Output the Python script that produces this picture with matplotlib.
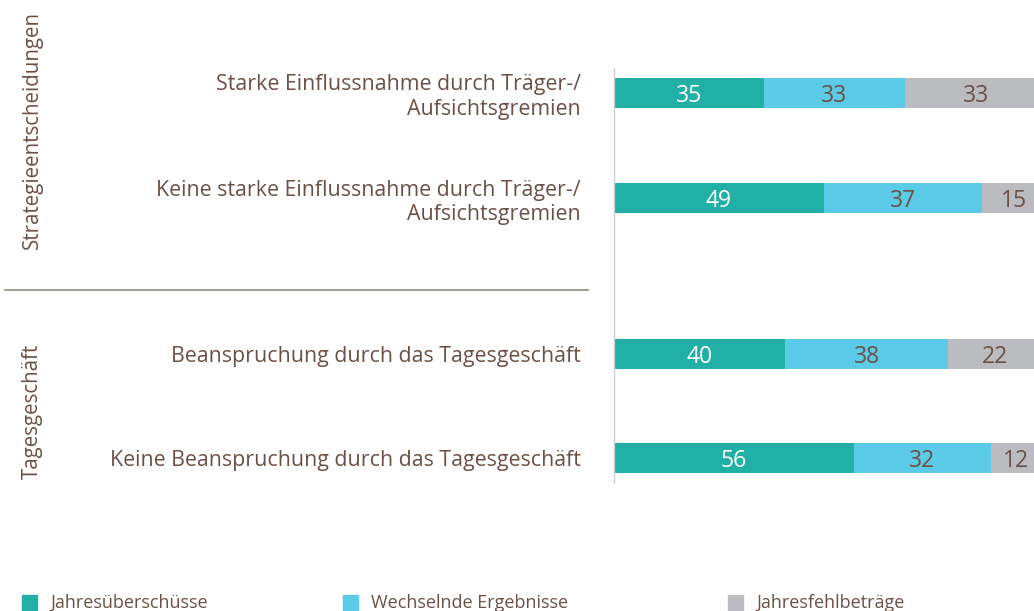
import matplotlib.pyplot as plt
from matplotlib.patches import Rectangle
from matplotlib.lines import Line2D

plt.rcParams['font.family'] = ['Open Sans', 'DejaVu Sans']

# Data
categories = ["Starke Einflussnahme durch Träger-/\nAufsichtsgremien",
              "Keine starke Einflussnahme durch Träger-/\nAufsichtsgremien",
              "Beanspruchung durch das Tagesgeschäft",
              "Keine Beanspruchung durch das Tagesgeschäft"]
ueberschuss = [35, 49, 40, 56]
wechselnd = [33, 37, 38, 32]
fehlbetrag = [33, 15, 22, 12]
series_names = ["Jahresüberschüsse", "Wechselnde Ergebnisse", "Jahresfehlbeträge"]
groups = ["Strategieentscheidungen", "Tagesgeschäft"]

colors = ["#20b0a5", "#5ccbe8", "#bbbcc0"]
text_color = "#6b5046"
W, H = 1034, 611

fig = plt.figure(figsize=(W / 100, H / 100), dpi=100)
ax = fig.add_axes([614 / W, 1 - 483 / H, 420 / W, 415 / H])

ypos = [0, 1, 2.486, 3.476]
height = 0.286
series = [ueberschuss, wechselnd, fehlbetrag]
left = [0] * len(categories)
for i, vals in enumerate(series):
    bars = ax.barh(ypos, vals, left=left, height=height, color=colors[i], edgecolor="none")
    for b, v in zip(bars, vals):
        ax.text(b.get_x() + b.get_width() / 2, b.get_y() + b.get_height() / 2, str(v),
                ha="center", va="center_baseline", fontsize=16.5,
                color="white" if i == 0 else text_color)
    left = [l + v for l, v in zip(left, vals)]

ax.set_xlim(0, 420 / 4.28)
ax.set_ylim(3.476 + 0.238, -0.238)
ax.set_yticks(ypos)
ax.set_yticklabels(categories, fontsize=15.4, color=text_color)
ax.tick_params(axis="y", length=0, pad=24)
ax.set_xticks([])
for s in ["top", "right", "bottom"]:
    ax.spines[s].set_visible(False)
ax.spines["left"].set_color("#cccccc")
ax.spines["left"].set_linewidth(1)

# Group labels and separator
fig.text(32 / W, 1 - 130 / H, groups[0], rotation=90, ha="center", va="center",
         fontsize=14.8, color=text_color)
fig.text(32 / W, 1 - 411 / H, groups[1], rotation=90, ha="center", va="center",
         fontsize=14.8, color=text_color)
fig.add_artist(Line2D([5 / W, 588 / W], [1 - 290 / H, 1 - 290 / H],
                      transform=fig.transFigure, color="#9a8a80", linewidth=1.2))

# Legend
legend_x = [22, 343, 728]
for x, name, c in zip(legend_x, series_names, colors):
    fig.add_artist(Rectangle((x / W, 1 - 611 / H), 15 / W, 16 / H,
                             transform=fig.transFigure, color=c))
    fig.text((x + 28) / W, 1 - 603 / H, name, ha="left", va="center",
             fontsize=13, color=text_color)

fig.savefig("out.png", dpi=100)
